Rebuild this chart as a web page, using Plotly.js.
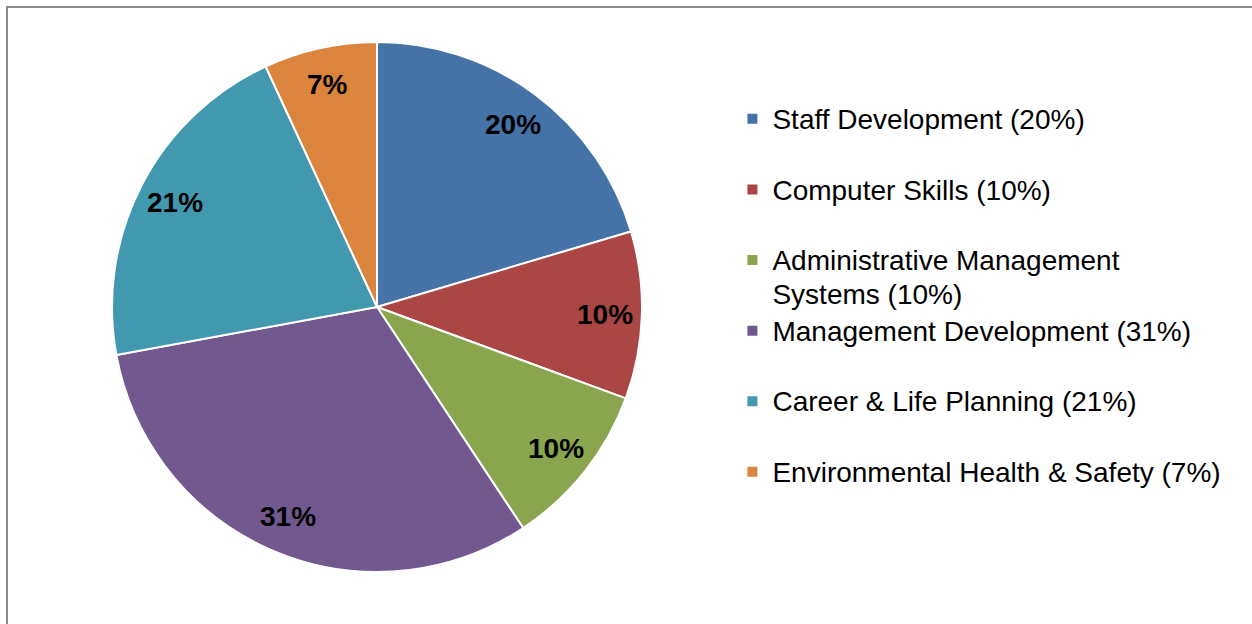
<!DOCTYPE html>
<html>
<head>
<meta charset="utf-8">
<script src="https://cdn.plot.ly/plotly-3.0.1.min.js"></script>
<style>
  html, body { margin: 0; padding: 0; background: #fff; overflow: hidden; }
  #wrap { position: relative; width: 1252px; height: 624px; }
  #chart { position: absolute; left: 0; top: 0; width: 1252px; height: 624px; }
  #frame { position: absolute; left: 6px; top: 6px; width: 2000px; height: 2000px;
           border-left: 2px solid #898989; border-top: 2px solid #898989; pointer-events: none; }
</style>
</head>
<body>
<div id="wrap">
  <div id="chart"></div>
  <div id="frame"></div>
</div>
<script>
// Data
const categories = [
  "Staff Development",
  "Computer Skills",
  "Administrative Management Systems",
  "Management Development",
  "Career & Life Planning",
  "Environmental Health & Safety"
];
const shares = [20.4, 10.2, 10.1, 31.4, 21.0, 6.9];
const pctLabels = ["20%", "10%", "10%", "31%", "21%", "7%"];
const legendLabels = [
  "Staff Development (20%)",
  "Computer Skills (10%)",
  "Administrative Management<br>Systems (10%)",
  "Management Development (31%)",
  "Career & Life Planning (21%)",
  "Environmental Health & Safety (7%)"
];
const colors = ["#4572A7", "#AA4643", "#89A54E", "#71588F", "#4198AF", "#DB843D"];

const FONT = "Liberation Sans, Arial, sans-serif";

// Each legend slot is two lines tall (as in the reference's fixed-height entries)
const legendText = legendLabels.map(l => {
  const lines = l.split("<br>");
  if (lines.length < 2) lines.push(" ");
  return lines.map(s => '<span style="font-size:28px">' + s + '</span>').join("<br>");
});

const W = 1252, H = 624;
const cx = 377, cy = 307, R = 265;

const trace = {
  type: "pie",
  labels: legendText,
  values: shares,
  textinfo: "none",
  sort: false,
  direction: "clockwise",
  rotation: 0,
  marker: { colors: colors, line: { color: "#ffffff", width: 2 } },
  hoverinfo: "none",
  domain: {
    x: [(cx - R) / W, (cx + R) / W],
    y: [1 - (cy + R) / H, 1 - (cy - R) / H]
  }
};

// Data labels placed at each slice's mid-angle (computed from the values)
const total = shares.reduce((a, b) => a + b, 0);
let cum = 0;
const annotations = shares.map((v, i) => {
  const mid = (cum + v / 2) / total * 2 * Math.PI;
  cum += v;
  const r = R * 0.86;
  return {
    xref: "paper", yref: "paper",
    x: (cx + r * Math.sin(mid)) / W,
    y: 1 - (cy - r * Math.cos(mid)) / H,
    xanchor: "center", yanchor: "middle",
    text: pctLabels[i],
    showarrow: false,
    font: { family: FONT, size: 28, color: "#000000", weight: "bold" }
  };
});

const layout = {
  width: W,
  height: H,
  margin: { l: 0, r: 0, t: 0, b: 0, pad: 0 },
  paper_bgcolor: "#ffffff",
  showlegend: true,
  annotations: annotations,
  legend: {
    x: 0.585,
    xanchor: "left",
    y: 0.847,
    yanchor: "top",
    valign: "top",
    font: { family: FONT, size: 26, color: "#000000" },
    bgcolor: "rgba(0,0,0,0)",
    traceorder: "normal"
  }
};

Plotly.newPlot("chart", [trace], layout, { staticPlot: true, displayModeBar: false });
</script>
</body>
</html>
